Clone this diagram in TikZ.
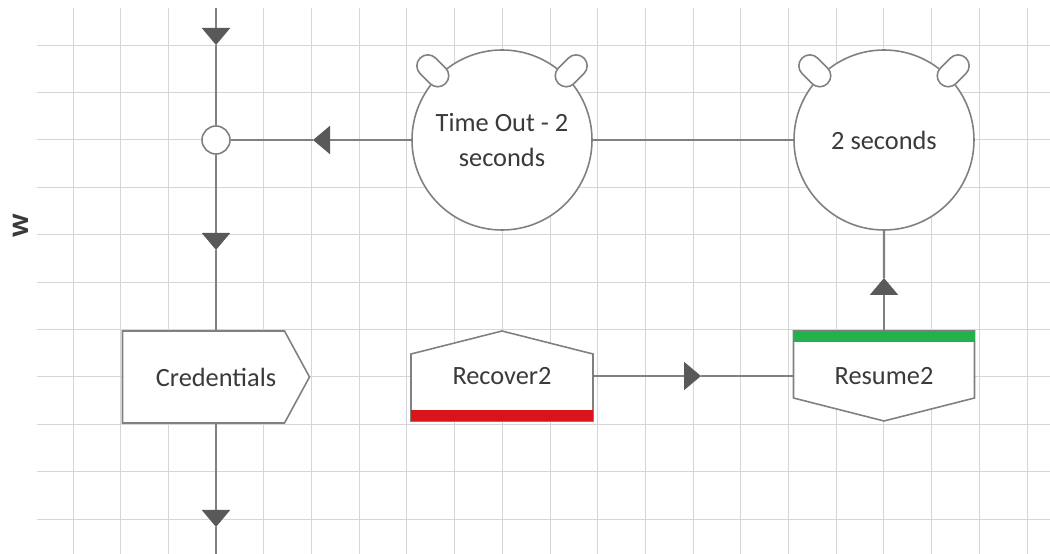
\documentclass[tikz,border=0pt]{standalone}
\usepackage{fontspec}
\setmainfont{Carlito}
\usepackage{tikz}
\usetikzlibrary{arrows.meta}
\definecolor{grigiolinea}{HTML}{808080}
\definecolor{grigioscuro}{HTML}{595959}
\definecolor{grigiogriglia}{HTML}{D6D6D6}
\definecolor{testo}{HTML}{3A3A3A}
\definecolor{rossobarra}{HTML}{D9151B}
\definecolor{verdebarra}{HTML}{22B14C}
\tikzstyle{griglia} = [draw=grigiogriglia,line width=0.55pt]
\tikzstyle{linea} = [draw=grigiolinea,line width=1.2pt]
\tikzstyle{freccia} = [linea,-{Triangle[width=0.56cm,length=0.34cm,color=grigioscuro]}]
\tikzstyle{bordo} = [draw=grigiolinea,line width=0.9pt,fill=white]
\tikzstyle{nodotimer} = [circle,draw=grigiolinea,line width=0.9pt,fill=white,minimum size=3.6cm,align=center,text=testo]
\tikzstyle{orecchio} = [rectangle,rounded corners=0.22cm,draw=grigiolinea,line width=0.9pt,fill=white,minimum width=0.72cm,minimum height=0.44cm]
\tikzstyle{giunto} = [circle,draw=grigiolinea,line width=0.9pt,fill=white,minimum size=0.56cm,inner sep=0pt]
\tikzstyle{nodoforma} = [rectangle,inner sep=0pt,text=testo]

\begin{document}
\begin{tikzpicture}
\tikzstyle{every node}=[font=\fontsize{15}{20}\selectfont]
\useasboundingbox (0,0) rectangle (21,11.08);

% griglia di sfondo
\draw[griglia,shift={(1.46,-1)},xstep=0.954,ystep=50] (0,1) grid (19.1,11.92);
\draw[griglia,shift={(0,0.70)},xstep=50,ystep=0.948] (0.74,0) grid (21,9.5);

\coordinate (cCred) at (4.32,3.54);
\coordinate (cRec) at (10.04,3.56);
\coordinate (cRes) at (17.68,3.56);

% forme
\draw[bordo] (cCred) ++(-1.87,0.92) -- ++(3.24,0) -- ++(0.5,-0.92) -- ++(-0.5,-0.92) -- ++(-3.24,0) -- cycle;
\draw[bordo] (cRec) ++(-1.82,-0.9) -- ++(0,1.34) -- ++(1.82,0.46) -- ++(1.82,-0.46) -- ++(0,-1.34) -- cycle;
\fill[rossobarra] (cRec) ++(-1.82,-0.9) rectangle ++(3.64,0.22);
\draw[bordo] (cRes) ++(-1.81,0.9) -- ++(3.62,0) -- ++(0,-1.34) -- ++(-1.81,-0.46) -- ++(-1.81,0.46) -- cycle;
\fill[verdebarra] (cRes) ++(-1.81,0.9) rectangle ++(3.62,-0.22);

\node (Cred) [nodoforma,minimum width=3.74cm,minimum height=1.84cm] at (cCred) {Credentials};
\node (Rec2) [nodoforma,minimum width=3.64cm,minimum height=1.8cm] at (cRec) {Recover2};
\node (Res2) [nodoforma,minimum width=3.62cm,minimum height=1.8cm] at (cRes) {Resume2};

\node (T1) [nodotimer] at (10.04,8.28) {Time Out - 2\\seconds};
\node (T2) [nodotimer,right of=T1,node distance=7.64cm] {2 seconds};
\node (T1a) [orecchio,xshift=-0.1cm,yshift=0.1cm,rotate=135] at (T1.135) {};
\node (T1b) [orecchio,xshift=0.1cm,yshift=0.1cm,rotate=45] at (T1.45) {};
\node (T2a) [orecchio,xshift=-0.1cm,yshift=0.1cm,rotate=135] at (T2.135) {};
\node (T2b) [orecchio,xshift=0.1cm,yshift=0.1cm,rotate=45] at (T2.45) {};

\node (J) [giunto] at (4.32,8.28) {};
\node (w) [rotate=90,text=testo,font=\fontsize{18}{18}\selectfont\bfseries] at (0.42,6.56) {w};

\coordinate (inizio) at (4.32,10.92);
\coordinate (fine) at (4.32,0);
\coordinate (f1) at (4.32,10.18);
\coordinate (f2) at (4.32,6.08);
\coordinate (f3) at (4.32,0.54);
\coordinate (f4) at (6.26,8.28);
\coordinate (f5) at (14.02,3.56);
\coordinate (f6) at (17.68,5.52);

\draw[freccia] (inizio) -- (f1);
\draw[linea] (f1) -- (J);
\draw[freccia] (J) -- (f2);
\draw[linea] (f2) -- (Cred);
\draw[freccia] (Cred) -- (f3);
\draw[linea] (f3) -- (fine);

\draw[freccia] (T1) -- (f4);
\draw[linea] (f4) -- (J);
\draw[linea] (T1) -- (T2);

\draw[freccia] (Rec2) -- (f5);
\draw[linea] (f5) -- (Res2);
\draw[freccia] (Res2) -- (f6);
\draw[linea] (f6) -- (T2);

\end{tikzpicture}
\end{document}
